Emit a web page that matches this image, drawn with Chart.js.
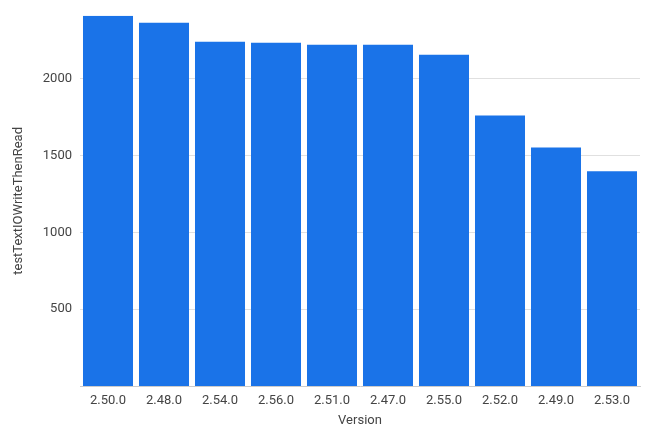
<!DOCTYPE html>
<html>
<head>
<meta charset="utf-8">
<script src="https://cdn.jsdelivr.net/npm/chart.js@4"></script>
<style>
  html, body { margin: 0; padding: 0; background: #fff; }
  #wrap { width: 650px; height: 442px; }
</style>
</head>
<body>
<div id="wrap"><canvas id="chart"></canvas></div>
<script>
// data
const versions = ['2.50.0', '2.48.0', '2.54.0', '2.56.0', '2.51.0', '2.47.0', '2.55.0', '2.52.0', '2.49.0', '2.53.0'];
const writeThenRead = [2411, 2366, 2242, 2235, 2223, 2223, 2158, 1762, 1554, 1398];
const yTicks = [500, 1000, 1500, 2000];

const ctx = document.getElementById('chart');
new Chart(ctx, {
    type: 'bar',
    data: {
        labels: versions,
        datasets: [{
            label: 'testTextIOWriteThenRead',
            data: writeThenRead,
            backgroundColor: '#1a73e8',
            barPercentage: 0.893,
            categoryPercentage: 1.0
        }]
    },
    options: {
        maintainAspectRatio: false,
        responsive: true,
        animation: false,
        layout: { padding: { top: 15, right: 10, bottom: 0, left: 0 } },
        plugins: {
            legend: { display: false },
            tooltip: { enabled: false }
        },
        scales: {
            x: {
                grid: { display: false, drawTicks: false },
                border: { color: '#cccccc' },
                ticks: { color: '#444', font: { family: 'Roboto', size: 13 }, padding: 7 },
                title: { display: true, text: 'Version', color: '#444', font: { family: 'Roboto', size: 13 }, padding: { top: 4, bottom: 13 } },
                afterFit: (s) => { s.height = 56; }
            },
            y: {
                min: 0,
                max: 2411,
                afterBuildTicks: (s) => { s.ticks = yTicks.map(v => ({ value: v })); },
                grid: { color: '#e0e0e0', drawTicks: false },
                border: { display: false },
                ticks: {
                    color: '#444',
                    font: { family: 'Roboto', size: 13 },
                    padding: 8,
                    callback: (v) => String(v)
                },
                title: { display: true, text: 'testTextIOWriteThenRead', color: '#444', font: { family: 'Roboto', size: 13 }, padding: { top: 11, bottom: 4 } },
                afterFit: (s) => { s.width = 80; }
            }
        }
    }
});
</script>
</body>
</html>
